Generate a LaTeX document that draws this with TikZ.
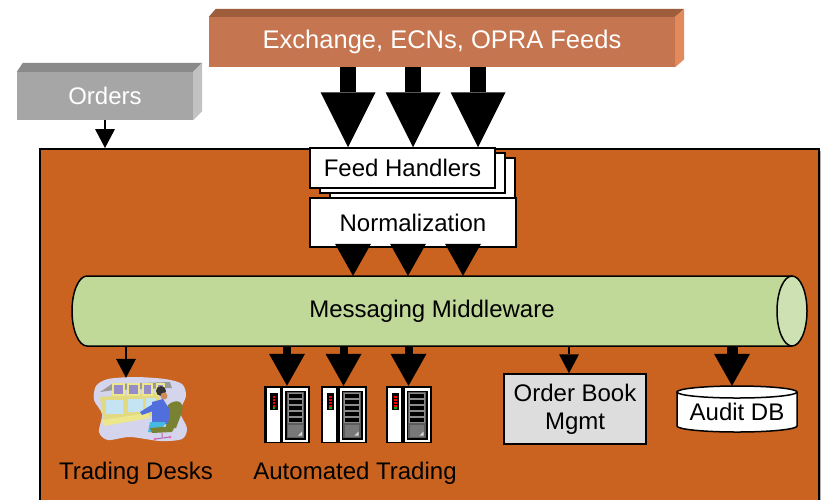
\documentclass[tikz,border=0pt]{standalone}
\usepackage{fontspec}
\setmainfont{Liberation Sans}
\usetikzlibrary{arrows.meta}

\definecolor{coreorange}{RGB}{201,99,31}
\definecolor{feedfront}{RGB}{197,117,79}
\definecolor{feedtop}{RGB}{158,94,60}
\definecolor{feedside}{RGB}{226,138,92}
\definecolor{ordfront}{RGB}{166,166,166}
\definecolor{ordtop}{RGB}{138,138,138}
\definecolor{ordside}{RGB}{194,194,194}
\definecolor{tubebody}{RGB}{192,216,152}
\definecolor{tubeend}{RGB}{205,225,178}
\definecolor{bookgrey}{RGB}{221,221,221}
\definecolor{rackgrey}{RGB}{92,92,92}
\definecolor{traygrey}{RGB}{120,120,120}
\definecolor{deskblob}{RGB}{212,212,236}
\definecolor{deskyellow}{RGB}{226,218,130}
\definecolor{screenblue}{RGB}{196,228,244}
\definecolor{monitorframe}{RGB}{236,230,140}
\definecolor{monitorscreen}{RGB}{150,140,200}
\definecolor{shirtblue}{RGB}{80,110,220}
\definecolor{pantscyan}{RGB}{70,185,225}
\definecolor{chairgreen}{RGB}{120,130,50}
\definecolor{skin}{RGB}{205,140,90}

\begin{document}
\begin{tikzpicture}[
  x=1pt, y=-1pt,
  font=\fontsize{24}{28}\selectfont,
  box/.style={rectangle, draw, line width=1.5pt, inner sep=0pt, align=center},
  slab/.style={rectangle, inner sep=0pt, text=white},
  feedarrow/.style={line width=16pt, -{Triangle[width=55pt,length=55pt,line width=0pt]}},
  busarrow/.style={line width=11pt, -{Triangle[width=36pt,length=32pt,line width=0pt]}},
  thinarrow/.style={line width=1.5pt, -{Triangle[width=20pt,length=19pt,line width=0pt]}},
  server/.pic={
    \node[fill=black, minimum width=46pt, minimum height=57pt, inner sep=0pt] (-box) at (0,0) {};
    \fill[white] (-20.5,-26.2) rectangle (-7.2,27.2);
    \fill[white] (-3.7,-26.2) rectangle (21.3,27.2);
    \fill[black] (-2,-24) rectangle (19,25);
    \fill[rackgrey] (-0.3,-22.3) rectangle (17.3,23.3);
    \foreach \sy in {-19,-13,-7,-1,5}
      \draw[fill=black, draw=black!45, line width=0.8pt] (1.2,\sy-2) rectangle (15.8,\sy+2.5);
    \fill[traygrey] (1.2,10) rectangle (15.8,22);
    \fill[white!70!traygrey] (11,21) -- (15,17) -- (15,21) -- cycle;
    % status lights
    \fill[black] (-17,-21.2) rectangle (-9.3,-4.5);
    \foreach \ly in {-18,-15,-12,-9}
      \fill[red] (-14.4,\ly-1) rectangle (-11.9,\ly+1);
    \fill[green!70!black] (-14.4,-7.2) rectangle (-11.9,-5.4);
  }
]
\useasboundingbox (0,0) rectangle (821,499);
\fill[white] (0,0) rectangle (821,499);
\clip (0,0) rectangle (821,499);

% Feeds banner
\node[slab, fill=feedfront, minimum width=466pt, minimum height=50pt,
  font=\fontsize{25.5}{30}\selectfont] (feeds) at (442,42) {Exchange, ECNs, OPRA Feeds};
\fill[feedtop] (feeds.north west) -- ++(7,-8) -- ([xshift=9pt,yshift=8pt]feeds.north east) -- (feeds.north east) -- cycle;
\fill[feedside] (feeds.north east) -- ++(9,-8) -- ([xshift=9pt,yshift=8pt]feeds.south east) -- (feeds.south east) -- cycle;

% Orders
\node[slab, fill=ordfront, minimum width=176pt, minimum height=48pt] (orders) at (105,96) {Orders};
\fill[ordtop] (orders.north west) -- ++(6,-9) -- ([xshift=9pt,yshift=9pt]orders.north east) -- (orders.north east) -- cycle;
\fill[ordside] (orders.north east) -- ++(9,-9) -- ([xshift=9pt,yshift=9pt]orders.south east) -- (orders.south east) -- cycle;

% Trading system
\fill[black!30] (42,151) rectangle (821,530);
\node[draw, line width=1.5pt, fill=coreorange, minimum width=779pt, minimum height=380pt,
  inner sep=0pt, anchor=north west] (core) at (39,148) {};
\draw[thinarrow] (orders.south) -- (orders.south |- core.north);

% Feed handlers and normalization
\node[box, fill=white, minimum width=185pt, minimum height=40pt] (fh3) at (422.5,178) {};
\node[box, fill=white, minimum width=185pt, minimum height=40pt] (fh2) at (412.5,173) {};
\node[box, fill=white, minimum width=185pt, minimum height=40pt] (fh1) at (402.5,168) {Feed Handlers};
\node[box, fill=white, minimum width=206pt, minimum height=49pt] (norm) at (413,222.5) {Normalization};

\foreach \dx in {-65,0,65}
  \draw[feedarrow] ([xshift=\dx pt]norm.north |- feeds.south) -- ([xshift=\dx pt]norm.north |- fh1.north);

% Middleware bus
\fill[tubebody] (87,276) -- (792,276) -- (792,346) -- (87,346)
  arc[start angle=270, end angle=90, x radius=15pt, y radius=35pt] -- cycle;
\draw[line width=1.5pt] (792,276) -- (87,276)
  arc[start angle=90, end angle=270, x radius=15pt, y radius=35pt] -- (792,346);
\draw[line width=1.5pt, fill=tubeend] (792,311) ellipse[x radius=15pt, y radius=35pt];
\node[minimum width=720pt, minimum height=70pt, inner sep=0pt] (mw) at (432,311) {Messaging Middleware};

\foreach \dx in {-60,-5,50}
  \draw[busarrow] ([xshift=\dx pt]norm.south) -- ([xshift=\dx pt]norm.south |- mw.north);

% Trading desk
\fill[deskblob] plot[smooth cycle] coordinates {(96,386) (108,379) (135,377) (165,379) (182,384)
  (186,396) (180,412) (187,428) (182,439) (160,441) (130,437) (108,440) (99,432) (102,414) (94,400)};
\fill[black!40] (100,392) -- (112,384) -- (170,382) -- (172,388) -- (114,390) -- cycle;
\fill[deskyellow] (100,397) -- (158,393) -- (162,412) -- (150,416) -- (104,424) -- cycle;
\foreach \mx/\mw in {113/11,128/11,143/9,157/7}
  \draw[draw=monitorframe, fill=monitorscreen, line width=1.2pt] (\mx,384) rectangle (\mx+\mw,395);
\fill[screenblue] (106,400) rectangle (123,414);
\fill[screenblue] (128,399) rectangle (143,412);
\fill[screenblue] (146,398) rectangle (156,410);
\fill[monitorframe] (102,420) -- (148,413) -- (150,418) -- (104,426) -- cycle;
\fill[chairgreen] (168,405) .. controls (176,398) and (185,401) .. (182,412) -- (176,428) -- (166,428) -- cycle;
\fill[shirtblue] (152,402) -- (163,399) -- (170,410) -- (168,424) -- (152,426) -- cycle;
\fill[shirtblue] (153,404) -- (140,412) -- (142,415) -- (156,410) -- cycle;
\fill[pantscyan] (150,422) -- (166,422) -- (160,432) -- (148,432) -- cycle;
\fill[chairgreen] (150,428) -- (175,426) -- (172,432) -- (152,433) -- cycle;
\fill[black!80] (161,391) circle[radius=5pt];
\fill[skin] (164,396) circle[radius=3.5pt];
\draw[violet!60, line width=1pt] (162,433) -- (162,437) (155,439) -- (170,437);
\fill[magenta!60] (155,439) circle[radius=1.5pt] (170,437) circle[radius=1.5pt];
\node[minimum width=92pt, minimum height=62pt, inner sep=0pt] (desk) at (141,409) {};
\draw[thinarrow] ([xshift=-15pt]desk.north |- mw.south) -- ([xshift=-15pt]desk.north);
\node (desklabel) at (136,473) {Trading Desks};

% Automated trading servers
\pic (s1) at (287,414.5) {server};
\pic (s2) at (343.5,414.5) {server};
\pic (s3) at (408.5,414.5) {server};
\foreach \s in {s1,s2,s3}
  \draw[busarrow, line width=8pt] (mw.south -| \s-box) -- (\s-box.north);
\node (autolabel) at (355,473) {Automated Trading};

% Order book
\node[box, fill=bookgrey, minimum width=142pt, minimum height=70pt] (book) at (575,409) {Order Book\\Mgmt};
\draw[thinarrow] ([xshift=-6pt]book.north |- mw.south) -- ([xshift=-6pt]book.north);

% Audit database
\draw[line width=1.5pt, fill=white] (677,392) -- (677,426)
  arc[start angle=180, end angle=360, x radius=60pt, y radius=6pt] -- (797,392);
\draw[line width=1.5pt, fill=white] (737,392) ellipse[x radius=60pt, y radius=6pt];
\node[minimum width=120pt, minimum height=52pt, inner sep=0pt] (db) at (737,412) {Audit DB};
\draw[busarrow] ([xshift=-5pt]db.north |- mw.south) -- ([xshift=-5pt]db.north);
\end{tikzpicture}
\end{document}
